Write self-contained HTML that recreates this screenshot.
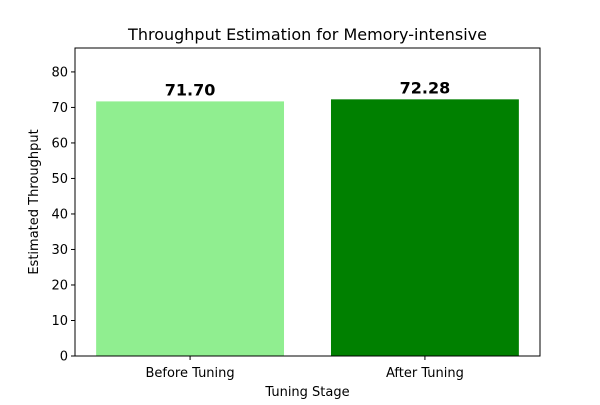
<!DOCTYPE html>
<html><head><meta charset="utf-8"><style>body{margin:0;background:#fff}svg{font-family:"DejaVu Sans","Liberation Sans",sans-serif}</style></head>
<body>
<svg id="chart" width="600" height="400"></svg>
<script>
const categories = ["Before Tuning", "After Tuning"];
const values = [71.70, 72.28];
const colors = ["#90ee90", "#008000"];
const yTicks = [0, 10, 20, 30, 40, 50, 60, 70, 80];

const NS = "http://www.w3.org/2000/svg";
const svg = document.getElementById("chart");
const L = 75, R = 540, T = 48, B = 356;
const yMax = Math.max(...values) * 1.2;
const xMin = -0.49, xMax = categories.length - 1 + 0.49;
const xs = v => L + (v - xMin) / (xMax - xMin) * (R - L);
const ys = v => B - v / yMax * (B - T);
function mk(tag, attrs, text) {
  const e = document.createElementNS(NS, tag);
  for (const k in attrs) e.setAttribute(k, attrs[k]);
  if (text !== undefined) e.textContent = text;
  svg.appendChild(e);
  return e;
}
values.forEach((v, i) => {
  const r = mk("rect", {x: xs(i - 0.4), y: ys(v), width: xs(i + 0.4) - xs(i - 0.4), height: B - ys(v), fill: colors[i]});
  
  
  const t = mk("text", {x: xs(i), y: ys(v) - 6, "text-anchor": "middle", "font-size": 16, "font-weight": "bold"}, v.toFixed(2));
  
  
  mk("line", {x1: xs(i), x2: xs(i), y1: B, y2: B + 4, stroke: "#000"});
  const c = mk("text", {x: xs(i), y: B + 21, "text-anchor": "middle", "font-size": 13}, categories[i]);
  
  
});
yTicks.forEach(t => {
  mk("line", {x1: L - 4, x2: L, y1: ys(t), y2: ys(t), stroke: "#000"});
  const e = mk("text", {x: L - 7, y: ys(t) + 4.5, "text-anchor": "end", "font-size": 13}, t);
  
  
});
const f = mk("rect", {x: L, y: T, width: R - L, height: B - T, fill: "none", stroke: "#000", "stroke-width": 1});


const ti = mk("text", {x: (L + R) / 2, y: 40, "text-anchor": "middle", "font-size": 16}, "Throughput Estimation for Memory-intensive");


const xl = mk("text", {x: (L + R) / 2, y: 396, "text-anchor": "middle", "font-size": 13}, "Tuning Stage");


const yl = mk("text", {x: 38, y: (T + B) / 2, "text-anchor": "middle", "font-size": 13, transform: `rotate(-90 38 ${(T + B) / 2})`}, "Estimated Throughput");


</script>
</body></html>
